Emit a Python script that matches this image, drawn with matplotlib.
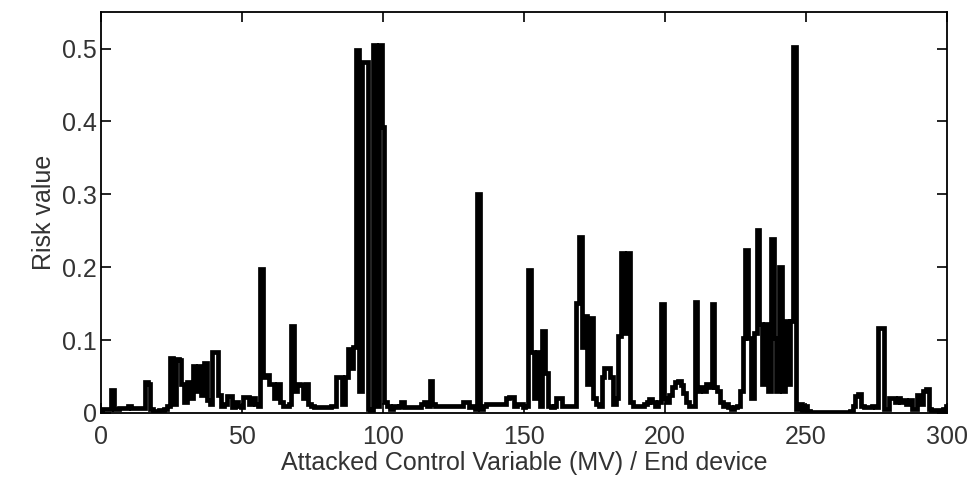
import numpy as np
import matplotlib
matplotlib.use('Agg')
import matplotlib.pyplot as plt

# Risk value per attacked control variable / end device (index 0..300)
risk = [
    0.004, 0.006, 0.006, 0.006, 0.032, 0.006, 0.006, 0.007, 0.007, 0.007,   # 0
    0.010, 0.007, 0.007, 0.007, 0.007, 0.007, 0.043, 0.040, 0.006, 0.003,   # 10
    0.003, 0.004, 0.004, 0.006, 0.010, 0.076, 0.012, 0.074, 0.073, 0.040,   # 20
    0.015, 0.042, 0.020, 0.065, 0.030, 0.065, 0.025, 0.068, 0.018, 0.012,   # 30
    0.083, 0.083, 0.025, 0.010, 0.012, 0.023, 0.023, 0.008, 0.015, 0.010,   # 40
    0.008, 0.022, 0.022, 0.012, 0.020, 0.012, 0.010, 0.197, 0.050, 0.052,   # 50
    0.040, 0.040, 0.020, 0.040, 0.015, 0.010, 0.010, 0.012, 0.120, 0.030,   # 60
    0.040, 0.038, 0.020, 0.040, 0.012, 0.010, 0.008, 0.008, 0.008, 0.008,   # 70
    0.008, 0.008, 0.010, 0.010, 0.050, 0.050, 0.012, 0.050, 0.088, 0.062,   # 80
    0.090, 0.498, 0.030, 0.481, 0.481, 0.005, 0.004, 0.505, 0.010, 0.505,   # 90
    0.392, 0.015, 0.010, 0.005, 0.010, 0.008, 0.010, 0.015, 0.008, 0.008,   # 100
    0.008, 0.008, 0.008, 0.008, 0.012, 0.015, 0.010, 0.044, 0.012, 0.010,   # 110
    0.009, 0.009, 0.009, 0.009, 0.009, 0.009, 0.009, 0.009, 0.010, 0.015,   # 120
    0.015, 0.008, 0.010, 0.005, 0.300, 0.005, 0.010, 0.012, 0.012, 0.012,   # 130
    0.012, 0.012, 0.012, 0.012, 0.020, 0.022, 0.022, 0.010, 0.012, 0.012,   # 140
    0.008, 0.010, 0.196, 0.083, 0.020, 0.083, 0.010, 0.113, 0.055, 0.010,   # 150
    0.008, 0.010, 0.020, 0.020, 0.010, 0.010, 0.010, 0.010, 0.010, 0.151,   # 160
    0.242, 0.090, 0.133, 0.040, 0.130, 0.020, 0.012, 0.010, 0.050, 0.062,   # 170
    0.062, 0.050, 0.012, 0.020, 0.105, 0.220, 0.110, 0.220, 0.015, 0.010,   # 180
    0.010, 0.010, 0.010, 0.012, 0.015, 0.019, 0.015, 0.010, 0.015, 0.150,   # 190
    0.020, 0.015, 0.025, 0.035, 0.042, 0.044, 0.038, 0.028, 0.015, 0.010,   # 200
    0.010, 0.152, 0.030, 0.035, 0.030, 0.040, 0.035, 0.150, 0.035, 0.030,   # 210
    0.015, 0.010, 0.012, 0.008, 0.006, 0.008, 0.010, 0.030, 0.103, 0.224,   # 220
    0.103, 0.020, 0.110, 0.251, 0.122, 0.040, 0.122, 0.030, 0.239, 0.103,   # 230
    0.030, 0.200, 0.030, 0.126, 0.040, 0.126, 0.502, 0.005, 0.012, 0.004,   # 240
    0.010, 0.003, 0.001, 0.001, 0.001, 0.001, 0.001, 0.001, 0.001, 0.001,   # 250
    0.001, 0.001, 0.001, 0.001, 0.001, 0.001, 0.003, 0.010, 0.024, 0.026,   # 260
    0.010, 0.008, 0.008, 0.008, 0.010, 0.008, 0.117, 0.117, 0.005, 0.006,   # 270
    0.020, 0.021, 0.015, 0.020, 0.015, 0.018, 0.012, 0.018, 0.005, 0.006,   # 280
    0.025, 0.012, 0.030, 0.033, 0.005, 0.004, 0.004, 0.004, 0.004, 0.006,   # 290
    0.009,                                                                  # 300
]
devices = np.arange(len(risk))

x_ticks = [0, 50, 100, 150, 200, 250, 300]
y_ticks = [0, 0.1, 0.2, 0.3, 0.4, 0.5]
y_tick_labels = ['0', '0.1', '0.2', '0.3', '0.4', '0.5']

plt.rcParams['font.family'] = ['Liberation Sans', 'DejaVu Sans']

fig = plt.figure(figsize=(9.79, 4.84), dpi=100)
ax = fig.add_axes([0.1032, 0.1467, 0.8641, 0.8283])

ax.plot(devices, risk, color='black', linewidth=3.4, drawstyle='steps-mid',
        solid_joinstyle='miter')

ax.set_xlim(0, 300)
ax.set_ylim(0, 0.55)
ax.set_xticks(x_ticks)
ax.set_yticks(y_ticks)
ax.set_yticklabels(y_tick_labels)

ax.tick_params(direction='in', length=7, width=1.2, top=True, right=True,
               labelsize=18, labelcolor='#333333')
ax.tick_params(axis='x', pad=9)
ax.tick_params(axis='y', pad=3)
for s in ax.spines.values():
    s.set_linewidth(1.3)

ax.set_xlabel('Attacked Control Variable (MV) / End device', fontsize=18,
              color='#333333', labelpad=1)
ax.set_ylabel('Risk value', fontsize=18, color='#333333', labelpad=4)

fig.savefig('out.png', dpi=100)
